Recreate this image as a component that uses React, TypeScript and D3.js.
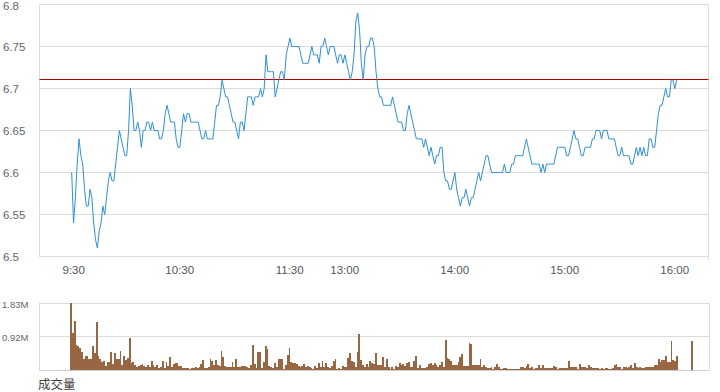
import * as React from 'react';
import {useEffect, useRef} from 'react';
import * as d3 from 'd3';

// minute index 0 = 9:30, lunch break squeezed out (11:59 -> 12:00 == 13:00)
const priceValues = [
  6.60, 6.54, 6.57, 6.61, 6.64, 6.62, 6.61, 6.58, 6.56, 6.56,
  6.58, 6.57, 6.54, 6.52, 6.51, 6.53, 6.54, 6.56, 6.55, 6.57,
  6.59, 6.60, 6.59, 6.59, 6.61, 6.63, 6.65, 6.64, 6.63, 6.62,
  6.62, 6.65, 6.70, 6.68, 6.65, 6.65, 6.66, 6.65, 6.63, 6.65,
  6.65, 6.66, 6.66, 6.65, 6.66, 6.65, 6.65, 6.65, 6.64, 6.64,
  6.65, 6.67, 6.68, 6.67, 6.66, 6.66, 6.66, 6.64, 6.63, 6.63,
  6.65, 6.67, 6.66, 6.67, 6.67, 6.66, 6.66, 6.66, 6.66, 6.66,
  6.65, 6.64, 6.64, 6.65, 6.64, 6.64, 6.64, 6.64, 6.66, 6.68,
  6.68, 6.69, 6.71, 6.70, 6.69, 6.69, 6.68, 6.67, 6.66, 6.66,
  6.65, 6.64, 6.66, 6.66, 6.65, 6.67, 6.69, 6.69, 6.69, 6.68,
  6.69, 6.69, 6.69, 6.70, 6.69, 6.70, 6.74, 6.72, 6.72, 6.72,
  6.72, 6.69, 6.70, 6.71, 6.72, 6.72, 6.71, 6.74, 6.75, 6.76,
  6.75, 6.75, 6.75, 6.75, 6.75, 6.74, 6.73, 6.73, 6.73, 6.73,
  6.74, 6.75, 6.74, 6.74, 6.74, 6.73, 6.75, 6.75, 6.76, 6.75,
  6.74, 6.75, 6.75, 6.75, 6.74, 6.73, 6.74, 6.74, 6.73, 6.74,
  6.73, 6.72, 6.71, 6.72, 6.74, 6.78, 6.79, 6.77, 6.73, 6.71,
  6.74, 6.75, 6.75, 6.76, 6.76, 6.75, 6.72, 6.70, 6.69, 6.69,
  6.68, 6.68, 6.68, 6.68, 6.68, 6.69, 6.68, 6.67, 6.66, 6.66,
  6.66, 6.65, 6.65, 6.67, 6.68, 6.67, 6.66, 6.65, 6.64, 6.64,
  6.64, 6.64, 6.63, 6.64, 6.63, 6.62, 6.63, 6.62, 6.61, 6.62,
  6.62, 6.63, 6.63, 6.60, 6.59, 6.59, 6.58, 6.58, 6.59, 6.60,
  6.58, 6.57, 6.56, 6.57, 6.57, 6.58, 6.57, 6.56, 6.57, 6.57,
  6.58, 6.59, 6.60, 6.59, 6.60, 6.61, 6.62, 6.62, 6.61, 6.60,
  6.60, 6.60, 6.60, 6.60, 6.60, 6.60, 6.61, 6.60, 6.60, 6.60,
  6.61, 6.61, 6.62, 6.62, 6.62, 6.62, 6.62, 6.63, 6.64, 6.63,
  6.62, 6.61, 6.61, 6.61, 6.61, 6.61, 6.60, 6.61, 6.60, 6.61,
  6.61, 6.61, 6.61, 6.61, 6.62, 6.63, 6.63, 6.63, 6.63, 6.63,
  6.62, 6.62, 6.63, 6.64, 6.65, 6.64, 6.64, 6.63, 6.62, 6.62,
  6.63, 6.63, 6.63, 6.63, 6.64, 6.64, 6.65, 6.65, 6.65, 6.64,
  6.65, 6.65, 6.65, 6.64, 6.64, 6.64, 6.64, 6.63, 6.62, 6.62,
  6.63, 6.62, 6.62, 6.62, 6.62, 6.61, 6.61, 6.62, 6.63, 6.62,
  6.63, 6.62, 6.63, 6.62, 6.62, 6.64, 6.64, 6.63, 6.63, 6.65,
  6.67, 6.68, 6.68, 6.69, 6.70, 6.69, 6.69, 6.71, 6.71, 6.70, 6.71,
];

// volume per minute, thousands of shares
const volumeValues = [
  1830, 1010, 1320, 675, 650, 585, 495, 297, 378, 378,
  297, 297, 648, 468, 1296, 378, 297, 225, 252, 108,
  225, 225, 477, 162, 468, 288, 306, 513, 135, 378,
  270, 315, 855, 180, 225, 135, 72, 108, 135, 162,
  108, 90, 135, 72, 243, 135, 90, 126, 45, 72,
  243, 54, 216, 108, 342, 72, 162, 180, 180, 108,
  108, 45, 45, 45, 63, 36, 45, 63, 72, 63,
  90, 162, 270, 54, 45, 90, 288, 252, 135, 270,
  135, 108, 513, 360, 108, 72, 72, 72, 225, 72,
  288, 72, 72, 108, 108, 108, 72, 63, 126, 675,
  162, 45, 495, 495, 45, 216, 648, 567, 108, 72,
  60, 180, 72, 297, 297, 297, 36, 135, 400, 594,
  216, 189, 189, 150, 108, 81, 108, 162, 90, 108,
  72, 45, 18, 108, 45, 180, 72, 243, 72, 198,
  72, 45, 108, 252, 297, 27, 45, 18, 108, 72,
  72, 324, 459, 243, 225, 72, 500, 972, 270, 135,
  72, 162, 72, 243, 180, 162, 450, 135, 135, 135,
  342, 72, 297, 72, 36, 72, 36, 108, 72, 180,
  126, 153, 117, 180, 216, 72, 72, 250, 378, 45,
  135, 45, 63, 45, 72, 162, 180, 135, 180, 135,
  90, 126, 207, 72, 810, 324, 306, 252, 135, 135,
  135, 216, 342, 432, 117, 108, 108, 720, 711, 135,
  135, 135, 135, 306, 72, 135, 90, 45, 45, 72,
  36, 72, 162, 72, 27, 27, 45, 45, 27, 18,
  18, 18, 18, 18, 18, 72, 72, 54, 108, 162,
  45, 72, 36, 45, 45, 135, 45, 135, 45, 45,
  45, 45, 45, 108, 72, 36, 45, 45, 45, 45,
  45, 243, 72, 72, 72, 72, 36, 162, 72, 72,
  72, 45, 126, 90, 45, 45, 45, 45, 18, 54,
  18, 45, 54, 18, 36, 54, 126, 162, 72, 72,
  36, 72, 72, 45, 72, 126, 45, 180, 72, 54,
  72, 54, 54, 72, 72, 72, 90, 72, 126, 126,
  297, 225, 270, 270, 378, 225, 225, 783, 270, 243, 378,
];

// closing auction print
const auctionMinute = 338;
const auctionVolume = 783;

const prevClose = 6.71;

const timeTicks = [0, 60, 120, 150, 210, 270, 330];
const timeLabels = ['9:30', '10:30', '11:30', '13:00', '14:00', '15:00', '16:00'];

const priceTicks = [6.5, 6.55, 6.6, 6.65, 6.7, 6.75, 6.8];
const priceTickLabels = ['6.5', '6.55', '6.6', '6.65', '6.7', '6.75', '6.8'];

const volTicks = [1830, 920];
const volTickLabels = ['1.83M', '0.92M'];

const W = 720;
const H = 392;
const LATIN = '"Liberation Sans", Arial, sans-serif';
const CJK = '"Noto Sans CJK SC", sans-serif';

export default function App() {
  const svgRef = useRef<SVGSVGElement>(null);

  useEffect(() => {
    const svg = d3.select(svgRef.current);
    svg.selectAll('*').remove();

    const plot = {left: 39.5, right: 708.5, top: 4.5, bottom: 256.5};
    const vol = {left: 39.5, right: 709.5, top: 302.5, bottom: 370};

    const x = d3.scaleLinear().domain([0, 330]).range([71.7, 676.7]);
    const y = d3.scaleLinear().domain([6.5, 6.8]).range([plot.bottom, plot.top]);
    const xv = d3.scaleLinear().domain([0, 331]).range([70, 678]);
    const yv = d3.scaleLinear().domain([0, 1830]).range([vol.bottom, vol.top]);

    const grid = '#dcdcdc';

    // price panel grid
    const g = svg.append('g');
    g.selectAll('line.grid')
      .data(priceTicks)
      .enter()
      .append('line')
      .attr('class', 'grid')
      .attr('x1', plot.left)
      .attr('x2', plot.right)
      .attr('y1', (d) => y(d))
      .attr('y2', (d) => y(d))
      .attr('stroke', grid);
    g.append('line')
      .attr('x1', plot.left).attr('x2', plot.left)
      .attr('y1', plot.top).attr('y2', plot.bottom)
      .attr('stroke', grid);
    g.append('line')
      .attr('x1', plot.right).attr('x2', plot.right)
      .attr('y1', plot.top).attr('y2', plot.bottom + 4)
      .attr('stroke', grid);

    g.selectAll('text.ylab')
      .data(priceTicks)
      .enter()
      .append('text')
      .attr('class', 'ylab')
      .attr('x', 3)
      .attr('y', (d) => Math.max(y(d), 6))
      .attr('dominant-baseline', 'central')
      .style('font-family', LATIN)
      .style('font-size', '11.5px')
      .attr('fill', '#666')
      .text((_, i) => priceTickLabels[i]);

    g.selectAll('text.xlab')
      .data(timeTicks)
      .enter()
      .append('text')
      .attr('class', 'xlab')
      .attr('x', (d, i) => x(d) + (i === 0 ? 2 : -2))
      .attr('y', 273.5)
      .attr('text-anchor', 'middle')
      .style('font-family', LATIN)
      .style('font-size', '11.5px')
      .attr('fill', '#555')
      .text((_, i) => timeLabels[i]);

    // previous close
    const yc = Math.round(y(prevClose)) - 0.5;
    g.append('line')
      .attr('x1', plot.left).attr('x2', plot.right)
      .attr('y1', yc).attr('y2', yc)
      .attr('stroke', '#b80000');

    const priceLine = d3.line<number>()
      .x((_, i) => x(i))
      .y((d) => y(d));
    g.append('path')
      .datum(priceValues)
      .attr('d', priceLine)
      .attr('fill', 'none')
      .attr('stroke', '#2d8fdc')
      .attr('stroke-width', 1);

    // volume panel
    const v = svg.append('g');
    [vol.top, yv(volTicks[1])].forEach((yy) => {
      v.append('line')
        .attr('x1', vol.left).attr('x2', vol.right)
        .attr('y1', Math.round(yy) + 0.5).attr('y2', Math.round(yy) + 0.5)
        .attr('stroke', grid);
    });
    v.append('line')
      .attr('x1', vol.left).attr('x2', vol.right)
      .attr('y1', vol.bottom + 0.5).attr('y2', vol.bottom + 0.5)
      .attr('stroke', '#d0d0d0');
    [vol.left, vol.right].forEach((xx) => {
      v.append('line')
        .attr('x1', xx).attr('x2', xx)
        .attr('y1', vol.top).attr('y2', vol.bottom)
        .attr('stroke', grid);
    });

    v.selectAll('text.vlab')
      .data(volTicks)
      .enter()
      .append('text')
      .attr('class', 'vlab')
      .attr('x', 2)
      .attr('y', (d) => yv(d) + 1.5)
      .attr('dominant-baseline', 'central')
      .style('font-family', LATIN)
      .style('font-size', '9.5px')
      .attr('fill', '#666')
      .text((_, i) => volTickLabels[i]);

    const brown = '#996644';
    v.selectAll('rect.vol')
      .data(volumeValues)
      .enter()
      .append('rect')
      .attr('class', 'vol')
      .attr('x', (_, i) => xv(i))
      .attr('width', (_, i) => xv(i + 1) - xv(i))
      .attr('y', (d) => yv(d))
      .attr('height', (d) => vol.bottom - yv(d))
      .attr('fill', brown)
      .attr('shape-rendering', 'crispEdges');
    v.append('rect')
      .attr('x', xv(auctionMinute))
      .attr('width', 2)
      .attr('y', yv(auctionVolume))
      .attr('height', vol.bottom - yv(auctionVolume))
      .attr('fill', brown)
      .attr('shape-rendering', 'crispEdges');

    v.append('text')
      .attr('x', 38)
      .attr('y', 389)
      .style('font-family', CJK)
      .style('font-size', '12.5px')
      .attr('fill', '#444')
      .text('成交量');
  }, []);

  return <div style={{position: 'absolute', left: 0, top: 0}}>
    <svg ref={svgRef} width={W} height={H} style={{display: 'block', background: '#fff'}} />
  </div>;
}
